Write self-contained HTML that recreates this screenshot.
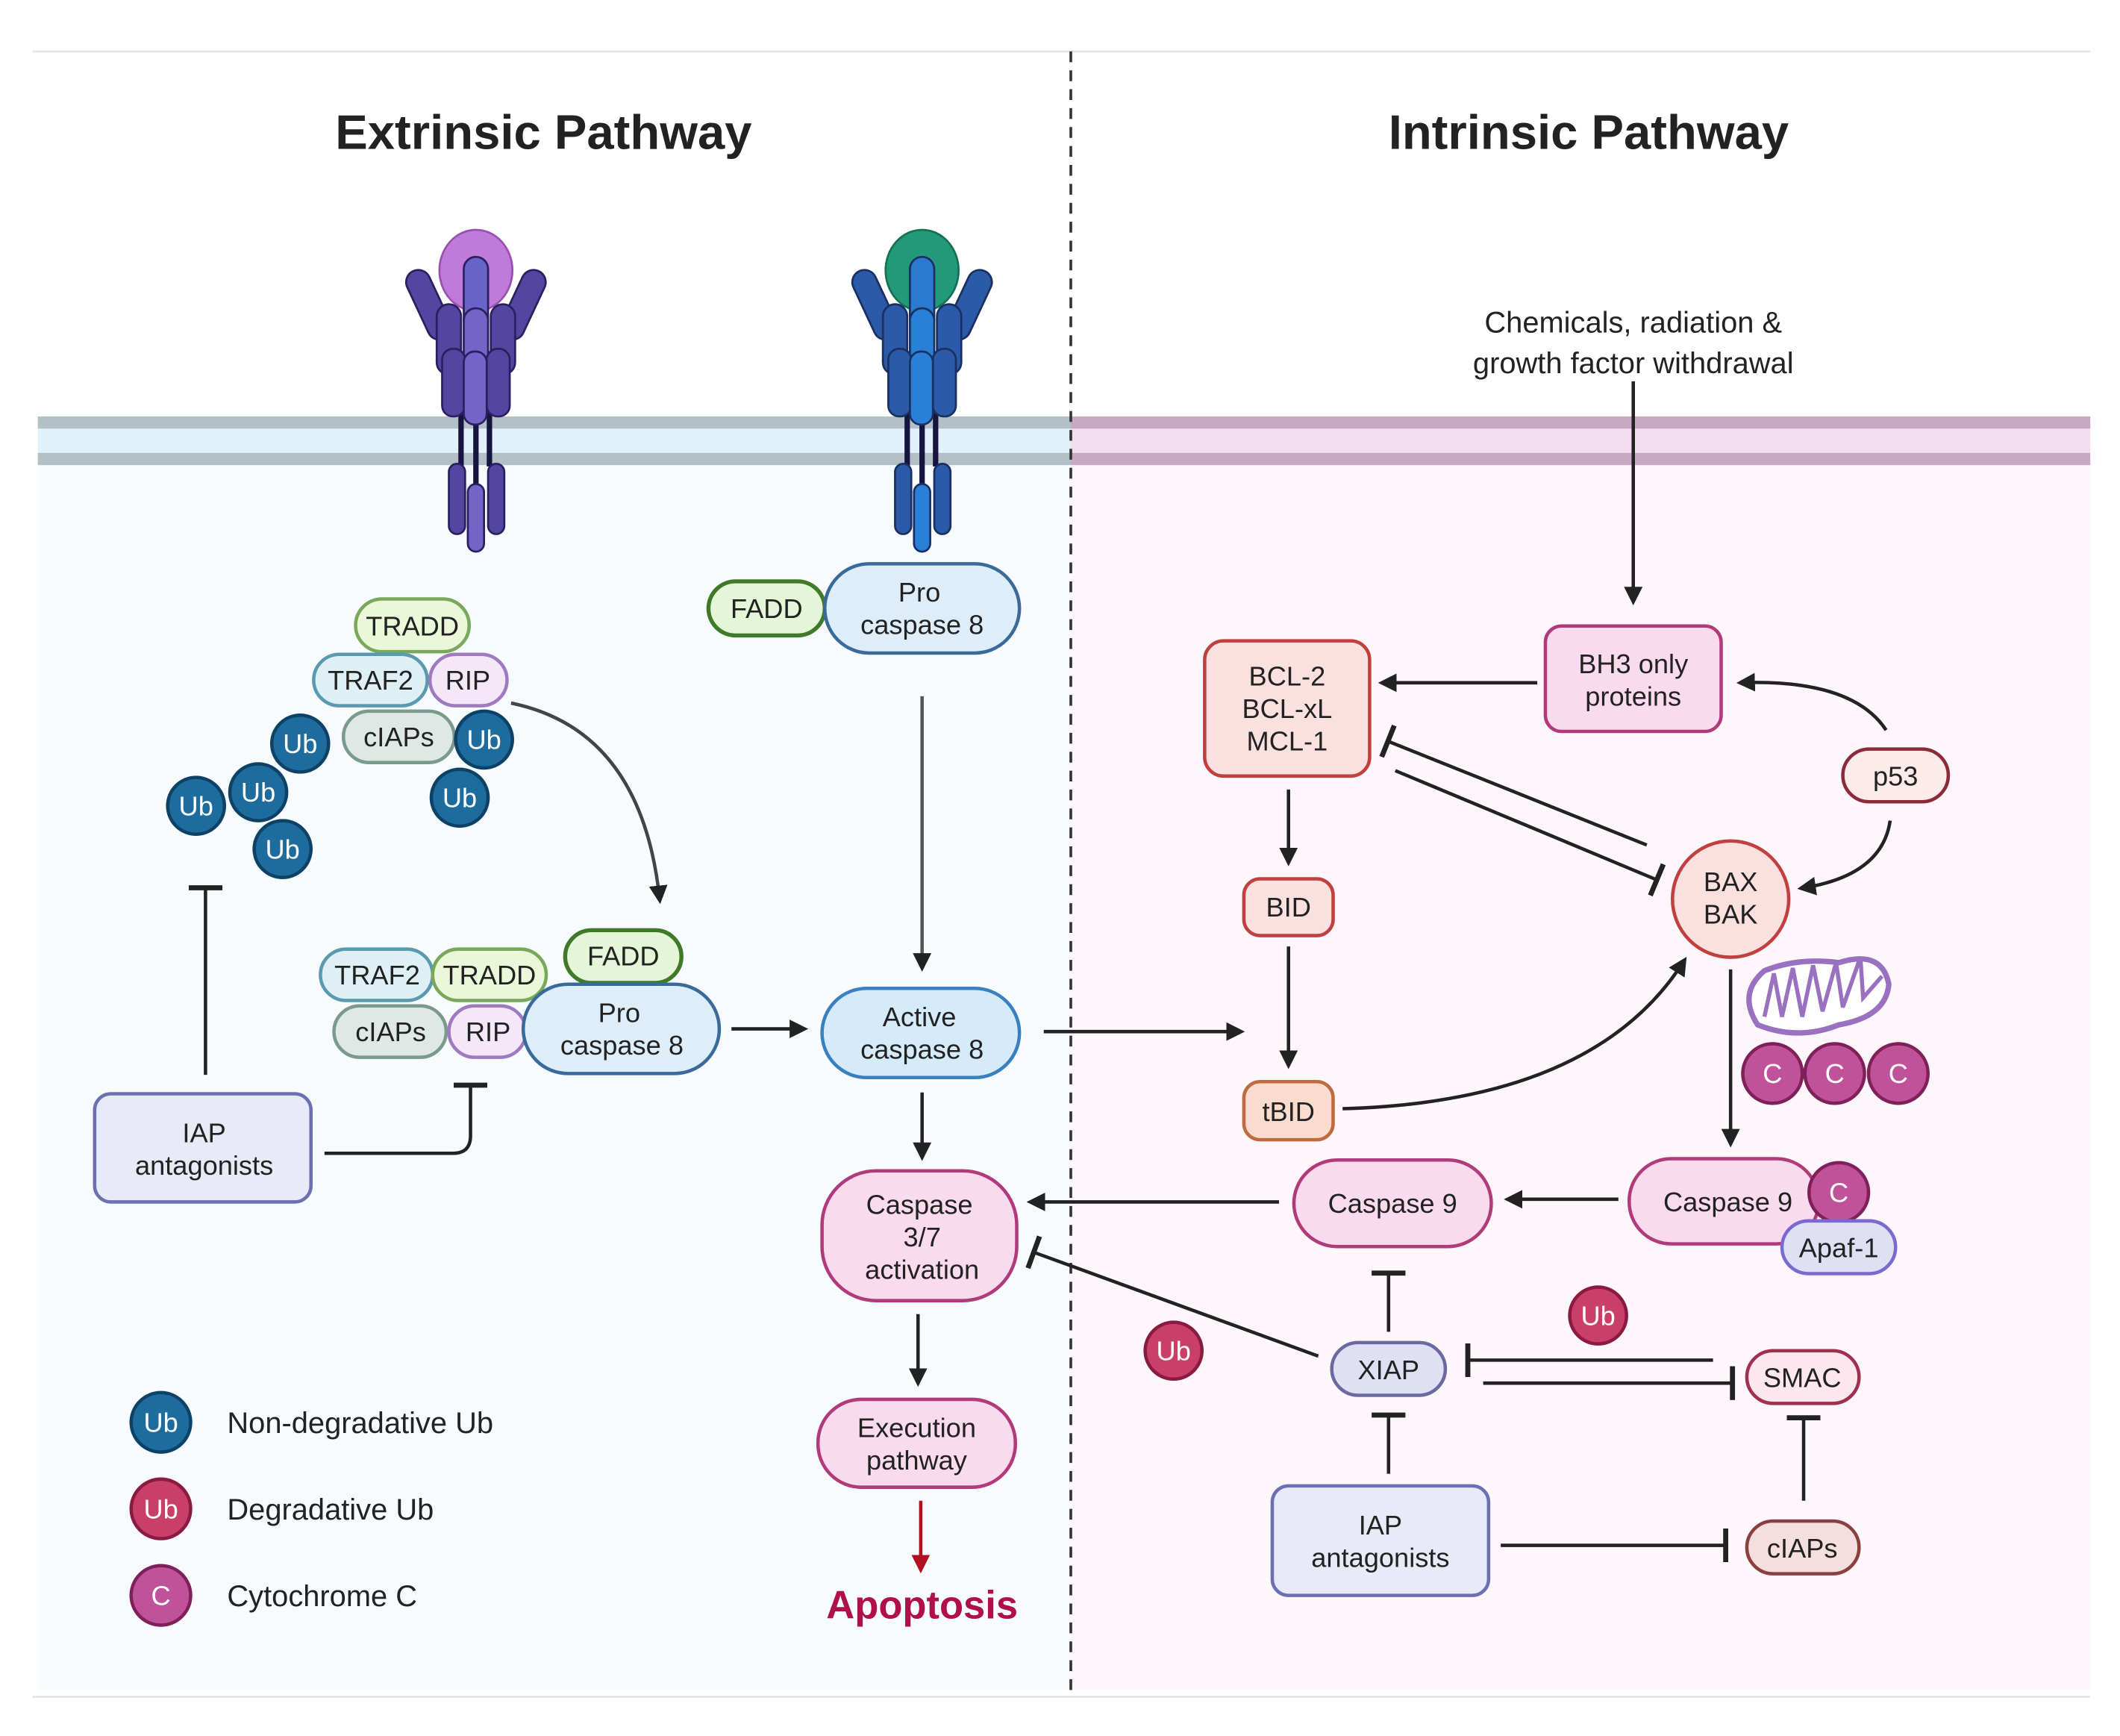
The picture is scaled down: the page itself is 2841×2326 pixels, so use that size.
<!DOCTYPE html>
<html><head><meta charset="utf-8"><style>
html,body{margin:0;padding:0;background:#fff}
svg{display:block}
text{font-family:"Liberation Sans",sans-serif;fill:#222;font-size:20px;text-anchor:middle}
.w{fill:#fff}
</style></head><body>
<svg width="2841" height="2326" viewBox="0 0 1568 1284" preserveAspectRatio="none" xmlns="http://www.w3.org/2000/svg">
<defs>
<marker id="a" viewBox="0 0 10 10" refX="8" refY="5" markerWidth="5.5" markerHeight="5.5" orient="auto"><path d="M0,0L10,5L0,10z" fill="#222"/></marker>
<marker id="ar" viewBox="0 0 10 10" refX="8" refY="5" markerWidth="5.5" markerHeight="5.5" orient="auto"><path d="M0,0L10,5L0,10z" fill="#b01020"/></marker>
<marker id="t" viewBox="0 0 4 20" refX="2" refY="10" markerWidth="4" markerHeight="10" orient="auto"><rect x="0" y="0" width="3" height="20" fill="#222"/></marker>
</defs>
<rect x="0" y="0" width="1600" height="1300" fill="#fff"/>
<line x1="24" y1="38" x2="1546" y2="38" stroke="#e4e4e4" stroke-width="1.5"/>
<line x1="24" y1="1255" x2="1546" y2="1255" stroke="#e4e4e4" stroke-width="1.5"/>
<rect x="28" y="343" width="764" height="907" fill="#f7fbfe"/>
<rect x="792" y="343" width="754" height="907" fill="#fdf6fb"/>
<rect x="28" y="308" width="764" height="36" fill="#e1f1fc"/>
<rect x="28" y="308" width="764" height="9" fill="#b3c0c8"/>
<rect x="28" y="335" width="764" height="9" fill="#b3c0c8"/>
<rect x="792" y="308" width="754" height="36" fill="#f3ddef"/>
<rect x="792" y="308" width="754" height="9" fill="#c8a8c3"/>
<rect x="792" y="335" width="754" height="9" fill="#c8a8c3"/>
<line x1="792" y1="38" x2="792" y2="1250" stroke="#333" stroke-width="2" stroke-dasharray="8,6"/>
<text x="402" y="110" style="font-size:36px;font-weight:bold">Extrinsic Pathway</text>
<text x="1175" y="110" style="font-size:36px;font-weight:bold">Intrinsic Pathway</text>

<g stroke="#2a2060" stroke-width="1.5">
<line x1="341" y1="285" x2="341" y2="345" stroke="#151540" stroke-width="4"/><line x1="352" y1="285" x2="352" y2="360" stroke="#151540" stroke-width="4"/><line x1="362" y1="285" x2="362" y2="345" stroke="#151540" stroke-width="4"/>
<rect x="308" y="198" width="18" height="55" rx="9" fill="#5446a0" transform="rotate(-25 317 225)"/>
<rect x="378" y="198" width="18" height="55" rx="9" fill="#5446a0" transform="rotate(25 387 225)"/>
<ellipse cx="352" cy="200" rx="27" ry="30" fill="#c07ad8" stroke="#9a50b0"/>
<rect x="343" y="190" width="18" height="56" rx="9" fill="#6a64c8"/>
<rect x="323" y="225" width="18" height="52" rx="9" fill="#5446a0"/><rect x="363" y="225" width="18" height="52" rx="9" fill="#5446a0"/><rect x="343" y="228" width="18" height="52" rx="9" fill="#7464c8"/>
<rect x="327" y="258" width="17" height="50" rx="8" fill="#5446a0"/><rect x="360" y="258" width="17" height="50" rx="8" fill="#5446a0"/><rect x="343" y="260" width="17" height="54" rx="8" fill="#7464c8"/>
<rect x="332" y="343" width="12" height="52" rx="6" fill="#5446a0"/><rect x="361" y="343" width="12" height="52" rx="6" fill="#5446a0"/><rect x="346" y="358" width="12" height="50" rx="6" fill="#7464c8"/>
</g>
<g stroke="#1a3060" stroke-width="1.5" transform="translate(330 0)">
<line x1="341" y1="285" x2="341" y2="345" stroke="#151540" stroke-width="4"/><line x1="352" y1="285" x2="352" y2="360" stroke="#151540" stroke-width="4"/><line x1="362" y1="285" x2="362" y2="345" stroke="#151540" stroke-width="4"/>
<rect x="308" y="198" width="18" height="55" rx="9" fill="#2a5aa8" transform="rotate(-25 317 225)"/>
<rect x="378" y="198" width="18" height="55" rx="9" fill="#2a5aa8" transform="rotate(25 387 225)"/>
<ellipse cx="352" cy="200" rx="27" ry="30" fill="#229a7a" stroke="#157055"/>
<rect x="343" y="190" width="18" height="56" rx="9" fill="#2a7ad0"/>
<rect x="323" y="225" width="18" height="52" rx="9" fill="#2a5aa8"/><rect x="363" y="225" width="18" height="52" rx="9" fill="#2a5aa8"/><rect x="343" y="228" width="18" height="52" rx="9" fill="#2a80d8"/>
<rect x="327" y="258" width="17" height="50" rx="8" fill="#2a5aa8"/><rect x="360" y="258" width="17" height="50" rx="8" fill="#2a5aa8"/><rect x="343" y="260" width="17" height="54" rx="8" fill="#2a80d8"/>
<rect x="332" y="343" width="12" height="52" rx="6" fill="#2a5aa8"/><rect x="361" y="343" width="12" height="52" rx="6" fill="#2a5aa8"/><rect x="346" y="358" width="12" height="50" rx="6" fill="#2a80d8"/>
</g>

<text x="1208" y="246" style="font-size:22px">Chemicals, radiation &amp;</text>
<text x="1208" y="276" style="font-size:22px">growth factor withdrawal</text>

<g stroke="#222" stroke-width="2.5" fill="none">
<line x1="1208" y1="282" x2="1208" y2="445" marker-end="url(#a)"/>
<line x1="1137" y1="505" x2="1022" y2="505" marker-end="url(#a)"/>
<path d="M1395,540 Q1370,502 1287,505" marker-end="url(#a)"/>
<path d="M1398,607 Q1392,648 1332,657" marker-end="url(#a)"/>
<line x1="1218" y1="625" x2="1026" y2="548" marker-end="url(#t)"/>
<line x1="1032" y1="570" x2="1226" y2="651" marker-end="url(#t)"/>
<line x1="953" y1="584" x2="953" y2="638" marker-end="url(#a)"/>
<line x1="953" y1="700" x2="953" y2="788" marker-end="url(#a)"/>
<path d="M993,820 Q1180,815 1246,710" marker-end="url(#a)"/>
<line x1="772" y1="763" x2="918" y2="763" marker-end="url(#a)"/>
<line x1="1280" y1="717" x2="1280" y2="846" marker-end="url(#a)"/>
<line x1="1197" y1="887" x2="1115" y2="887" marker-end="url(#a)"/>
<line x1="946" y1="889" x2="762" y2="889" marker-end="url(#a)"/>
<line x1="975" y1="1003" x2="764" y2="926" marker-end="url(#t)"/>
<line x1="1027" y1="985" x2="1027" y2="941" marker-end="url(#t)"/>
<line x1="1267" y1="1006" x2="1085" y2="1006" marker-end="url(#t)"/>
<line x1="1097" y1="1023" x2="1282" y2="1023" marker-end="url(#t)"/>
<line x1="1027" y1="1090" x2="1027" y2="1046" marker-end="url(#t)"/>
<line x1="1334" y1="1110" x2="1334" y2="1048" marker-end="url(#t)"/>
<line x1="1110" y1="1143" x2="1277" y2="1143" marker-end="url(#t)"/>
<line x1="682" y1="515" x2="682" y2="716" marker-end="url(#a)" stroke="#555"/>
<line x1="682" y1="808" x2="682" y2="856" marker-end="url(#a)"/>
<line x1="679" y1="972" x2="679" y2="1023" marker-end="url(#a)"/>
<line x1="681" y1="1110" x2="681" y2="1161" marker-end="url(#ar)" stroke="#b01020"/>
<line x1="541" y1="761" x2="595" y2="761" marker-end="url(#a)"/>
<path d="M378,520 Q475,540 488,666" marker-end="url(#a)" stroke="#444"/>
<line x1="152" y1="795" x2="152" y2="656" marker-end="url(#t)"/>
<path d="M240,853 L335,853 Q348,853 348,840 L348,802" marker-end="url(#t)"/>
</g>

<g stroke-width="2.5">
<rect x="263" y="443" width="84" height="39" rx="19.5" fill="#ebf7d9" stroke="#7aa85a"/><text x="305" y="470">TRADD</text>
<rect x="232" y="484" width="84" height="38" rx="19" fill="#dff0f5" stroke="#5a9ab0"/><text x="274" y="510">TRAF2</text>
<rect x="318" y="484" width="57" height="38" rx="19" fill="#f4e8f8" stroke="#a07ac0"/><text x="346" y="510">RIP</text>
<rect x="254" y="526" width="82" height="38" rx="19" fill="#dfe8e4" stroke="#7a9a8c"/><text x="295" y="552">cIAPs</text>
<g fill="#1e6c9e" stroke="#0d4266">
<circle cx="222" cy="550" r="21"/><circle cx="358" cy="547" r="21"/><circle cx="340" cy="590" r="21"/><circle cx="145" cy="596" r="21"/><circle cx="191" cy="586" r="21"/><circle cx="209" cy="628" r="21"/>
<circle cx="119" cy="1052" r="22"/></g>
<g class="w"><text class="w" x="222" y="557">Ub</text><text class="w" x="358" y="554">Ub</text><text class="w" x="340" y="597">Ub</text><text class="w" x="145" y="603">Ub</text><text class="w" x="191" y="593">Ub</text><text class="w" x="209" y="635">Ub</text><text class="w" x="119" y="1059">Ub</text></g>

<rect x="524" y="430" width="86" height="40" rx="20" fill="#e4f5d8" stroke="#3e7a28" stroke-width="3"/><text x="567" y="457">FADD</text>
<rect x="610" y="417" width="144" height="66" rx="33" fill="#ddeefa" stroke="#3a6a9a"/><text x="680" y="445">Pro</text><text x="682" y="469">caspase 8</text>

<rect x="237" y="702" width="83" height="38" rx="19" fill="#dff0f5" stroke="#5a9ab0"/><text x="279" y="728">TRAF2</text>
<rect x="320" y="702" width="84" height="38" rx="19" fill="#ebf7d9" stroke="#7aa85a"/><text x="362" y="728">TRADD</text>
<rect x="418" y="688" width="86" height="39" rx="19.5" fill="#e4f5d8" stroke="#3e7a28" stroke-width="3"/><text x="461" y="714">FADD</text>
<rect x="247" y="744" width="83" height="38" rx="19" fill="#dfe8e4" stroke="#7a9a8c"/><text x="289" y="770">cIAPs</text>
<rect x="332" y="744" width="57" height="38" rx="19" fill="#f4e8f8" stroke="#a07ac0"/><text x="361" y="770">RIP</text>
<rect x="387" y="728" width="145" height="66" rx="33" fill="#ddeefa" stroke="#3a6a9a"/><text x="458" y="756">Pro</text><text x="460" y="780">caspase 8</text>

<rect x="608" y="731" width="146" height="66" rx="33" fill="#d6ebfa" stroke="#3a80c0"/><text x="680" y="759">Active</text><text x="682" y="783">caspase 8</text>
<rect x="70" y="809" width="160" height="80" rx="12" fill="#e8eaf8" stroke="#6a70b0"/><text x="151" y="845">IAP</text><text x="151" y="869">antagonists</text>
<rect x="608" y="866" width="144" height="96" rx="40" fill="#fadbed" stroke="#b03a7a"/><text x="680" y="898">Caspase</text><text x="682" y="922">3/7</text><text x="682" y="946">activation</text>
<rect x="605" y="1035" width="146" height="65" rx="32" fill="#fadbed" stroke="#b03a7a"/><text x="678" y="1063">Execution</text><text x="678" y="1087">pathway</text>
<text x="682" y="1197" style="font-size:29px;font-weight:bold;fill:#b0104a">Apoptosis</text>

<circle cx="119" cy="1116" r="22" fill="#c8406a" stroke="#8a1a40"/><text class="w" x="119" y="1123">Ub</text>
<circle cx="119" cy="1180" r="22" fill="#c0529a" stroke="#80205a"/><text class="w" x="119" y="1187">C</text>
<text x="168" y="1060" style="text-anchor:start;font-size:22px">Non-degradative Ub</text>
<text x="168" y="1124" style="text-anchor:start;font-size:22px">Degradative Ub</text>
<text x="168" y="1188" style="text-anchor:start;font-size:22px">Cytochrome C</text>

<rect x="1143" y="463" width="130" height="78" rx="12" fill="#fadbed" stroke="#b03a7a"/><text x="1208" y="498">BH3 only</text><text x="1208" y="522">proteins</text>
<rect x="891" y="474" width="122" height="100" rx="14" fill="#fbe0e0" stroke="#c04040"/><text x="952" y="507">BCL-2</text><text x="952" y="531">BCL-xL</text><text x="952" y="555">MCL-1</text>
<rect x="1363" y="554" width="78" height="39" rx="19.5" fill="#fdeaea" stroke="#8a2a3a"/><text x="1402" y="581">p53</text>
<circle cx="1280" cy="665" r="43" fill="#fbe0e0" stroke="#c04040"/><text x="1280" y="659">BAX</text><text x="1280" y="683">BAK</text>
<rect x="920" y="650" width="66" height="42" rx="12" fill="#fbe0e0" stroke="#c04040"/><text x="953" y="678">BID</text>
<rect x="920" y="800" width="66" height="43" rx="12" fill="#f9dccd" stroke="#c06a40"/><text x="953" y="829">tBID</text>
<g>
<path d="M1300,758 Q1285,735 1305,718 Q1330,708 1360,712 Q1392,702 1397,728 Q1395,752 1360,758 Q1330,770 1300,758z" fill="#fff" stroke="#9a70c0" stroke-width="4"/>
<path d="M1305,752 L1312,720 L1318,752 L1326,716 L1333,752 L1341,714 L1348,748 L1358,712 L1363,745 L1376,708 L1378,738 L1392,722" fill="none" stroke="#9a70c0" stroke-width="3"/>
</g>
<g fill="#c0529a" stroke="#80205a" stroke-width="2.5"><circle cx="1311" cy="794" r="22"/><circle cx="1357" cy="794" r="22"/><circle cx="1404" cy="794" r="22"/></g>
<text class="w" x="1311" y="801">C</text><text class="w" x="1357" y="801">C</text><text class="w" x="1404" y="801">C</text>
<rect x="1205" y="857" width="140" height="63" rx="31" fill="#fadbed" stroke="#b03a7a"/><text x="1278" y="896">Caspase 9</text>
<circle cx="1360" cy="882" r="22" fill="#c0529a" stroke="#80205a"/><text class="w" x="1360" y="889">C</text>
<rect x="1318" y="903" width="84" height="39" rx="19.5" fill="#e0e0f5" stroke="#7a6ad0"/><text x="1360" y="930">Apaf-1</text>
<rect x="957" y="858" width="146" height="64" rx="32" fill="#fadbed" stroke="#b03a7a"/><text x="1030" y="897">Caspase 9</text>
<rect x="985" y="993" width="84" height="39" rx="19.5" fill="#e0e0f5" stroke="#6a6aa0"/><text x="1027" y="1020">XIAP</text>
<rect x="1292" y="999" width="83" height="39" rx="19.5" fill="#fde6ee" stroke="#a03050"/><text x="1333" y="1026">SMAC</text>
<circle cx="868" cy="999" r="21" fill="#c8406a" stroke="#8a1a40" stroke-width="2.5"/><text class="w" x="868" y="1006">Ub</text>
<circle cx="1182" cy="973" r="21" fill="#c8406a" stroke="#8a1a40" stroke-width="2.5"/><text class="w" x="1182" y="980">Ub</text>
<rect x="941" y="1099" width="160" height="81" rx="12" fill="#e8eaf8" stroke="#6a70b0"/><text x="1021" y="1135">IAP</text><text x="1021" y="1159">antagonists</text>
<rect x="1292" y="1125" width="83" height="39" rx="19.5" fill="#f5dede" stroke="#8a4040"/><text x="1333" y="1152">cIAPs</text>
</g>
</svg>
</body></html>
